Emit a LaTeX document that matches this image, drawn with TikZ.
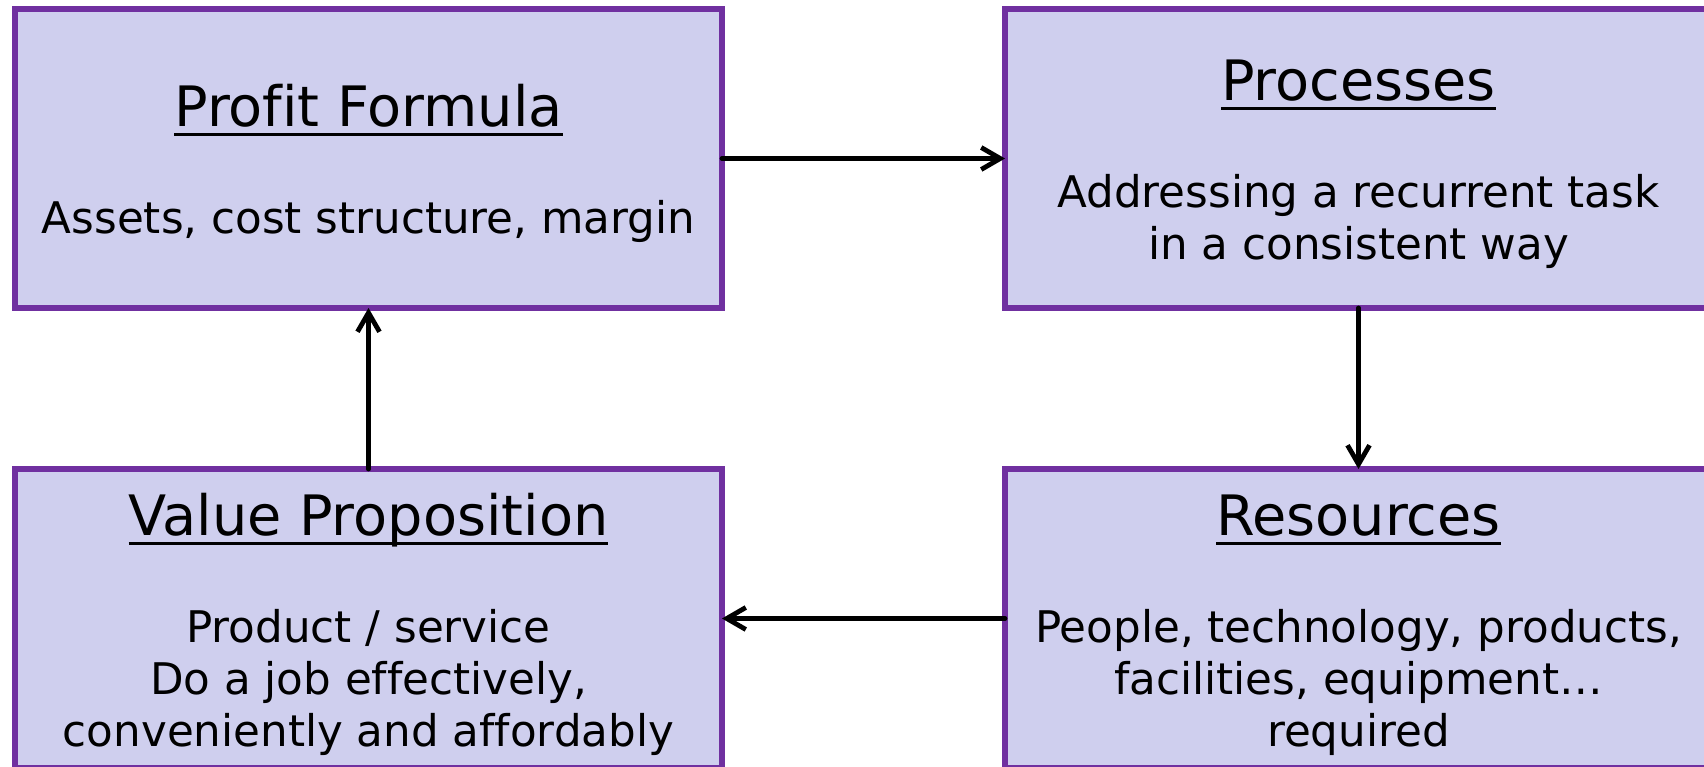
\documentclass[tikz,border=0pt]{standalone}
\usepackage{fontspec}
\setmainfont{DejaVu Sans}[Ligatures=NoCommon]
\usetikzlibrary{arrows.meta}

\definecolor{boxfill}{RGB}{207,207,238}
\definecolor{boxline}{RGB}{112,48,160}

% underlined heading: rule drawn just below the baseline, as wide as the text
\newsavebox\headbox
\newcommand\headline[1]{\sbox\headbox{#1}\rlap{\rule[-9.5pt]{\wd\headbox}{3pt}}\usebox\headbox}

\begin{document}
\begin{tikzpicture}[x=1pt,y=-1pt,
  blockbox/.style={draw=boxline, fill=boxfill, line width=6pt,
    minimum width=707pt, minimum height=299pt, inner sep=0pt, outer sep=0pt},
  titletext/.style={anchor=base, inner sep=0pt,
    font=\fontsize{55.7pt}{66pt}\selectfont},
  bodytext/.style={anchor=base, inner sep=0pt,
    font=\fontsize{43.6pt}{52pt}\selectfont},
  flow/.style={line width=4.8pt, line cap=round,
    -{Straight Barb[length=19pt,width=22pt,line width=4.8pt]}}
]
\useasboundingbox (0,0) rectangle (1704,767);
\clip (0,0) rectangle (1704,767);

% the four blocks
\node[blockbox] (pf)   at (368.5,158.5)  {};
\node[blockbox] (proc) at (1358.5,158.5) {};
\node[blockbox] (vp)   at (368.5,618.5)  {};
\node[blockbox] (res)  at (1358.5,618.5) {};

% Profit Formula
\node[titletext] (pf-t)  at (368.5,127) {\headline{Profit Formula}};
\node[bodytext]  (pf-b)  at (368.5,234) {Assets, cost structure, margin};

% Processes
\node[titletext] (proc-t)  at (1358.5,101) {\headline{Processes}};
\node[bodytext]  (proc-b1) at (1358.5,208) {Addressing a recurrent task};
\node[bodytext]  (proc-b2) at (1358.5,260) {in a consistent way};

% Value Proposition
\node[titletext] (vp-t)  at (368.5,535) {\headline{Value Proposition}};
\node[bodytext]  (vp-b1) at (368.5,642) {Product / service};
\node[bodytext]  (vp-b2) at (368.5,694) {Do a job effectively,};
\node[bodytext]  (vp-b3) at (368.5,746) {conveniently and affordably};

% Resources
\node[titletext] (res-t)  at (1358.5,535) {\headline{Resources}};
\node[bodytext]  (res-b1) at (1358.5,642) {People, technology, products,};
\node[bodytext]  (res-b2) at (1358.5,694) {facilities, equipment…};
\node[bodytext]  (res-b3) at (1358.5,746) {required};

% cycle of arrows
\draw[flow] (pf.east)    -- (proc.west);
\draw[flow] (proc.south) -- (res.north);
\draw[flow] (res.west)   -- (vp.east);
\draw[flow] (vp.north)   -- (pf.south);
\end{tikzpicture}
\end{document}
